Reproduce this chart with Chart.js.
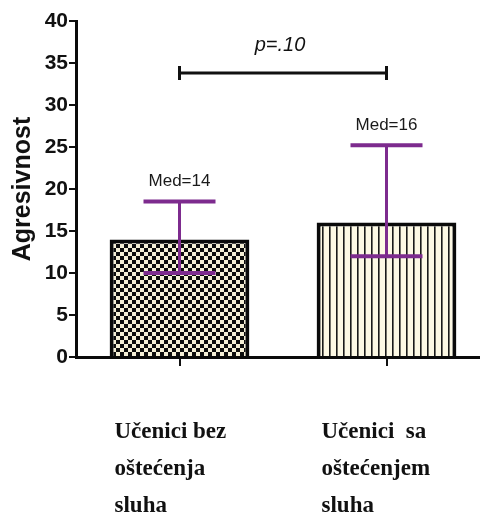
<!DOCTYPE html>
<html>
<head>
<meta charset="utf-8">
<script src="https://cdn.jsdelivr.net/npm/chart.js@4/dist/chart.umd.min.js"></script>
<style>
  html, body { margin: 0; padding: 0; background: #fff; }
  #wrap { width: 480px; height: 516px; overflow: hidden; }
  #grafico { display: block; }
</style>
</head>
<body>
<div id="wrap"><canvas id="grafico" width="490" height="516"></canvas></div>
<script>
const kategorije = [
  ["Učenici bez", "oštećenja", "sluha"],
  ["Učenici  sa", "oštećenjem", "sluha"]
];
const vrijednosti = [14, 16];
const donjaGranica = [10, 12];
const gornjaGranica = [18.5, 25.2];
const medijane = ["Med=14", "Med=16"];
const pTekst = "p=.10";
const pNivo = 33.8;
const yTicks = [0, 5, 10, 15, 20, 25, 30, 35, 40];

// uzorci za stubove
function sahovnica() {
  const c = document.createElement("canvas");
  c.width = 8; c.height = 8;
  const g = c.getContext("2d");
  g.fillStyle = "#f5efd6";
  g.fillRect(0, 0, 8, 8);
  g.fillStyle = "#0d0d0d";
  g.fillRect(0, 0, 4, 4);
  g.fillRect(4, 4, 4, 4);
  return g.createPattern(c, "repeat");
}
function pruge() {
  const c = document.createElement("canvas");
  c.width = 7; c.height = 7;
  const g = c.getContext("2d");
  g.fillStyle = "#fdf9e4";
  g.fillRect(0, 0, 7, 7);
  g.fillStyle = "#1a1a1a";
  g.fillRect(0, 0, 1.6, 7);
  return g.createPattern(c, "repeat");
}

const dodaci = {
  id: "dodaci",
  afterDatasetsDraw(chart) {
    const ctx = chart.ctx;
    const x = chart.scales.x, y = chart.scales.y;
    const meta = chart.getDatasetMeta(0);
    ctx.save();
    ctx.strokeStyle = "#7d2b8e";
    ctx.lineCap = "butt";
    meta.data.forEach((bar, i) => {
      const cx = bar.x;
      const yL = y.getPixelForValue(donjaGranica[i]);
      const yH = y.getPixelForValue(gornjaGranica[i]);
      const hw = 36;
      ctx.lineWidth = 3;
      ctx.beginPath();
      ctx.moveTo(cx, yL); ctx.lineTo(cx, yH);
      ctx.stroke();
      ctx.lineWidth = 4;
      ctx.beginPath();
      ctx.moveTo(cx - hw, yL); ctx.lineTo(cx + hw, yL);
      ctx.moveTo(cx - hw, yH); ctx.lineTo(cx + hw, yH);
      ctx.stroke();
      ctx.fillStyle = "#1a1a1a";
      ctx.font = "17px 'Liberation Sans', Arial, sans-serif";
      ctx.textAlign = "center";
      ctx.textBaseline = "bottom";
      ctx.fillText(medijane[i], cx, yH - 12);
    });
    // p zagrada
    const x1 = x.getPixelForValue(0), x2 = x.getPixelForValue(1);
    const py = y.getPixelForValue(pNivo);
    ctx.strokeStyle = "#111";
    ctx.lineWidth = 3;
    ctx.beginPath();
    ctx.moveTo(x1, py); ctx.lineTo(x2, py);
    ctx.moveTo(x1, py - 7); ctx.lineTo(x1, py + 7);
    ctx.moveTo(x2, py - 7); ctx.lineTo(x2, py + 7);
    ctx.stroke();
    ctx.fillStyle = "#111";
    ctx.font = "italic 20px 'Liberation Sans', Arial, sans-serif";
    ctx.textAlign = "center";
    ctx.textBaseline = "middle";
    ctx.fillText(pTekst, (x1 + x2) / 2 - 3, py - 28);
    ctx.restore();
  }
};

const ctx = document.getElementById("grafico").getContext("2d");
new Chart(ctx, {
  type: "bar",
  data: {
    labels: kategorije,
    datasets: [{
      data: vrijednosti,
      backgroundColor: [sahovnica(), pruge()],
      borderColor: "#0a0a0a",
      borderWidth: 4,
      borderSkipped: "bottom",
      barPercentage: 0.675,
      categoryPercentage: 1
    }]
  },
  options: {
    responsive: false,
    animation: false,
    layout: { padding: { top: 21, right: 0, left: 0, bottom: 0 } },
    plugins: { legend: { display: false }, tooltip: { enabled: false } },
    scales: {
      x: {
        afterFit(s) { s.height = 159; s.paddingLeft = 0; s.paddingRight = 0; },
        border: { display: true, color: "#0a0a0a", width: 3 },
        grid: { display: true, drawOnChartArea: false, offset: false, tickLength: 9, tickColor: "#111", lineWidth: 2 },
        ticks: {
          color: "#111",
          align: "start",
          labelOffset: -65,
          padding: 48,
          maxRotation: 0,
          autoSkip: false,
          font: { family: "'Liberation Serif', 'Times New Roman', serif", size: 23, weight: "bold", lineHeight: 1.6 }
        }
      },
      y: {
        min: 0,
        max: 40,
        afterFit(s) { s.width = 76; },
        afterBuildTicks(s) { s.ticks = yTicks.map(v => ({ value: v })); },
        border: { display: true, color: "#0a0a0a", width: 3 },
        grid: { display: true, drawOnChartArea: false, tickLength: 7, tickColor: "#111", lineWidth: 2 },
        ticks: {
          color: "#111",
          padding: 1,
          font: { family: "'Liberation Sans', Arial, sans-serif", size: 21, weight: "bold" }
        },
        title: {
          display: true,
          text: "Agresivnost",
          color: "#111",
          padding: { top: 8, bottom: 0 },
          font: { family: "'Liberation Sans', Arial, sans-serif", size: 25, weight: "bold" }
        }
      }
    }
  },
  plugins: [dodaci]
});
</script>
</body>
</html>
